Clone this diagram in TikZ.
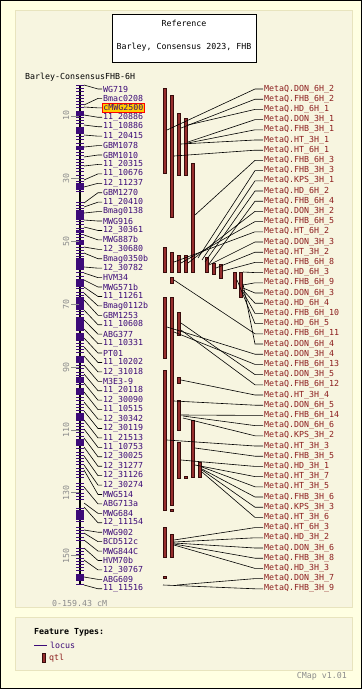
\documentclass[tikz,border=0pt]{standalone}
\usepackage{fontspec}
\usepackage{tikz}
\newfontfamily\cmapfont{DejaVu Sans Mono}
\definecolor{cmapbg}{RGB}{255,255,226}
\definecolor{panelbg}{RGB}{247,245,224}
\definecolor{panelrule}{RGB}{232,228,190}
\definecolor{locuscol}{RGB}{60,10,120}
\definecolor{qtlcol}{RGB}{140,30,30}
\definecolor{qtlfill}{RGB}{150,45,45}
\definecolor{scalecol}{RGB}{140,140,140}
\definecolor{hilite}{RGB}{255,204,0}

\begin{document}
\catcode`\_=12
\begin{tikzpicture}[x=1pt,y=-1pt,font=\cmapfont\fontsize{8.3}{9}\selectfont,
  marker/.style={anchor=west,inner sep=1pt,text=locuscol},
  metaq/.style={anchor=west,inner sep=1pt,text=qtlcol},
  qtl bar/.style={draw=black!60!qtlcol,fill=qtlfill,line width=0.6pt},
  link/.style={line width=0.6pt}]
\useasboundingbox (0,0) rectangle (362,689);
\fill[cmapbg] (0,0) rectangle (362,689);
\draw[line width=1pt] (0.5,0.5) rectangle (361.5,688.5);
\draw[panelrule,fill=panelbg] (15,10) rectangle (352,607);
\draw[panelrule,fill=panelbg] (15,617) rectangle (352,670);
\draw[fill=white,line width=0.8pt] (112,14) rectangle (256,62);
\node (ref) at (184,23) {Reference};
\node (map) at (184,47) {Barley, Consensus 2023, FHB};
\node[anchor=west,inner sep=0pt] (chr) at (25,77) {Barley-ConsensusFHB-6H};
\draw[line width=1.6pt] (80,85) -- (80,585);
\foreach \a/\b in {85/193,202/480,483/500,508/521,527/541,548/572,574/585}
  \draw[locuscol,line width=8pt,dash pattern=on 1pt off 2.2pt] (80,\a) -- (80,\b);
\foreach \a/\b in {112/116,128/133,147/150,183/190,210/220,230/233,240/245,258/270,
  280/287,297/310,317/330,333/340,357/363,377/383,388/395,413/420,440/445,510/520,575/580}
  \fill[locuscol] (76,\a) rectangle (84,\b);
\foreach \v in {10,30,...,150}
  \draw[scalecol,line width=0.6pt] (79,{84.5+3.14*\v}) -- (71,{84.5+3.14*\v})
    node[anchor=south,rotate=90,inner sep=1.5pt,text=scalecol] (s-\v) {\v};
\foreach \X [count=\Y] in {WG719,Bmac0208,cMWG2500,11_20886,11_10886,11_20415,GBM1078,
  GBM1010,11_20315,11_10676,12_11237,GBM1270,11_20410,Bmag0138,MWG916,12_30361,MWG887b,
  12_30680,Bmag0350b,12_30782,HVM34,MWG571b,11_11261,Bmag0112b,GBM1253,11_10608,ABG377,
  11_10331,PT01,11_10202,12_31018,M3E3-9,11_20118,12_30090,11_10515,12_30342,12_30119,
  11_21513,11_10753,12_30025,12_31277,12_31126,12_30274,MWG514,ABG713a,MWG684,12_11154,
  MWG902,BCD512c,MWG844C,HVM70b,12_30767,ABG609,11_11516}
  {\ifnum\Y=3
  \node[marker,draw=red,fill=hilite,line width=0.8pt] (L-\Y) at (102,{89+(\Y-1)*9.43}) {\X};
  \else
  \node[marker] (L-\Y) at (102,{89+(\Y-1)*9.43}) {\X};
  \fi}
\foreach \P [count=\Y] in {85,105,107,115,125,135,147,157,166,180,187,203,207,213,220,227,
  235,247,253,267,273,280,287,293,300,310,320,329,338,347,356,365,374,383,392,402,411,420,
  429,438,447,456,465,470,487,503,507,530,533,540,548,560,577,585}
  {\coordinate (m-\Y) at (84,\P);
  \draw[link] (m-\Y) -- ([xshift=-4pt]L-\Y.west) -- (L-\Y.west);}
\foreach \x/\a/\b in {163/88/173,170/95/217,177/113/175,184/118/175,191/163/272,163/247/272,
  170/252/272,177/255/272,184/255/272,205/257/272,212/263/274,219/264/278,233/272/288,
  239/272/297,170/277/283,163/297/358,170/297/505,177/312/335,163/370/510,177/377/383,
  177/400/430,191/420/477,177/442/478,198/462/477,184/476/478,170/509/511,163/527/557,
  170/534/557,163/576/578}
  \draw[qtl bar] (\x,\a) rectangle (\x+3.5,\b);
\foreach \X [count=\Y] in {DON_6H_2,FHB_6H_2,HD_6H_1,DON_3H_1,FHB_3H_1,HT_3H_1,HT_6H_1,
  FHB_6H_3,FHB_3H_3,KPS_3H_1,HD_6H_2,FHB_6H_4,DON_3H_2,FHB_6H_5,HT_6H_2,DON_3H_3,HT_3H_2,
  FHB_6H_8,HD_6H_3,FHB_6H_9,DON_6H_3,HD_6H_4,FHB_6H_10,HD_6H_5,FHB_6H_11,DON_6H_4,
  DON_3H_4,FHB_6H_13,DON_3H_5,FHB_6H_12,HT_3H_4,DON_6H_5,FHB_6H_14,DON_6H_6,KPS_3H_2,
  HT_3H_3,FHB_3H_5,HD_3H_1,HT_3H_7,HT_3H_5,FHB_3H_6,KPS_3H_3,HT_3H_6,HT_6H_3,HD_3H_2,
  DON_3H_6,FHB_3H_8,HD_3H_3,DON_3H_7,FHB_3H_9}
  \node[metaq] (Q-\Y) at (263,{89+(\Y-1)*10.2}) {MetaQ.\X};
\foreach \u/\v [count=\Y] in {167/130,181/128,188/125,188/142,188/143,181/144,174/156,
  195/215,198/258,202/260,205/262,209/264,188/263,181/263,174/262,209/265,216/268,223/271,
  243/272,243/285,243/288,243/290,243/292,237/280,174/280,243/284,167/327,174/332,181/323,
  181/330,181/380,174/401,181/415,183/416,183/418,167/440,195/448,181/460,195/465,202/467,
  202/469,202/470,202/472,174/540,174/542,174/543,174/544,174/545,177/585,163/585}
  {\coordinate (q-\Y) at (\u,\v);
  \draw[link] (q-\Y) -- ([xshift=-8pt]Q-\Y.west) -- (Q-\Y.west);}
\node[anchor=west,inner sep=0pt,text=scalecol] (span) at (52,603) {0-159.43 cM};
\node[anchor=west,inner sep=0pt,font=\cmapfont\bfseries\fontsize{8.3}{9}\selectfont] (ft) at (34,632) {Feature Types:};
\draw[locuscol,line width=1pt] (34,645) -- (47,645);
\node[anchor=west,inner sep=0pt,text=locuscol] (locus) at (50,645) {locus};
\draw[qtl bar] (42,653) rectangle (45,662);
\node[anchor=west,inner sep=0pt,text=qtlcol] (qtl) at (49,658) {qtl};
\node[anchor=east,inner sep=0pt,text=scalecol] (ver) at (347,676) {CMap v1.01};
\end{tikzpicture}
\end{document}
